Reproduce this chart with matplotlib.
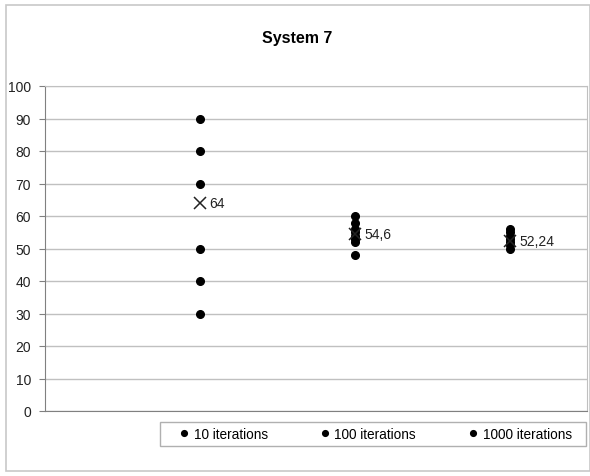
import matplotlib
matplotlib.use("Agg")
import matplotlib.pyplot as plt
from matplotlib.patches import Rectangle

plt.rcParams['font.family'] = ['Liberation Sans', 'DejaVu Sans']

series_names = ["10 iterations", "100 iterations", "1000 iterations"]
series_x = [1, 2, 3]
values_10 = [90, 80, 70, 50, 40, 30]
values_100 = [60, 58, 56, 55, 54, 53, 52, 48]
values_1000 = [56, 55, 54, 53, 52, 51, 50]
means = [64, 54.6, 52.24]
mean_labels = ["64", "54,6", "52,24"]
yticks = [0, 10, 20, 30, 40, 50, 60, 70, 80, 90, 100]

fig = plt.figure(figsize=(5.90, 4.77), dpi=100)
fig.patch.set_facecolor('white')
fig.add_artist(Rectangle((6/590, 5/477), 1 - 6/590, 1 - 11/477, transform=fig.transFigure,
                         fill=False, edgecolor='#c8c8c8', linewidth=1.2))

ax = fig.add_axes([45/590, 1 - 412/477, 542/590, 325/477])
ax.set_xlim(0, 3.5)
ax.set_ylim(0, 100)
ax.set_yticks(yticks)
ax.set_yticklabels([str(v) for v in yticks], fontsize=10, color='#222222')
ax.set_xticks([])
ax.grid(axis='y', color='#c0c0c0', linewidth=1)
ax.set_axisbelow(True)
for s in ['left', 'bottom']:
    ax.spines[s].set_color('#808080')
for s in ['right', 'top']:
    ax.spines[s].set_color('#c0c0c0')
ax.tick_params(axis='y', length=4, color='#808080', pad=6)

all_vals = [values_10, values_100, values_1000]
for name, x, vals in zip(series_names, series_x, all_vals):
    ax.plot([x] * len(vals), vals, 'o', color='black', markersize=5.5, label=name, linestyle='none')

for x, m, lab in zip(series_x, means, mean_labels):
    ax.plot([x], [m], marker='x', color='#222222', markersize=9, markeredgewidth=1.1, linestyle='none')
    ax.annotate(lab, (x, m), xytext=(7, 0), textcoords='offset points', va='center', ha='left',
                fontsize=10, color='#222222')

fig.text(297/590, 1 - 38/477, "System 7", ha='center', va='center', fontsize=11.5, fontweight='bold')

# legend frame
fig.add_artist(Rectangle((160/590, 1 - 447/477), 426/590, 24/477, transform=fig.transFigure,
                         fill=False, edgecolor='#b0b0b0', linewidth=1))
handles, labels = ax.get_legend_handles_labels()
leg = fig.legend(handles, labels, loc='center', bbox_to_anchor=(376/590, 1 - 435/477), ncol=3,
                 fontsize=9.8, frameon=False, handlelength=0.6,
                 handletextpad=0.4, columnspacing=3.9, markerscale=0.75, borderpad=0.0,
                 borderaxespad=0)

fig.savefig("out.png", dpi=100)
